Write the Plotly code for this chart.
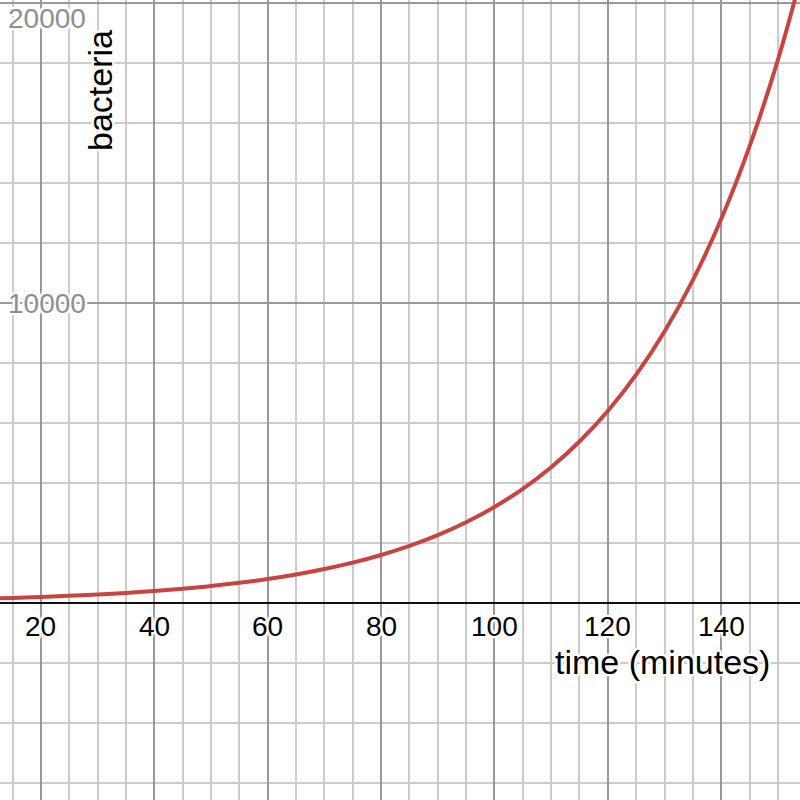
import plotly.graph_objects as go

# Data
t_min = [10, 15, 20, 25, 30, 35, 40, 45, 50, 55, 60, 65, 70, 75, 80, 85, 90, 95,
         100, 105, 110, 115, 120, 125, 130, 135, 140, 145, 150, 155]
bacteria = [141, 168, 200, 238, 283, 336, 400, 476, 566, 673, 800, 951, 1131, 1345,
            1600, 1903, 2263, 2691, 3200, 3805, 4525, 5382, 6400, 7611, 9051, 10763,
            12800, 15222, 18102, 21527]

x_tick_vals = [20, 40, 60, 80, 100, 120, 140]
x_tick_text = ["20", "40", "60", "80", "100", "120", "140"]
y_tick_vals = [10000, 20000]
y_tick_text = ["10000", "20000"]

x_title = "time (minutes)"
y_title = "bacteria"

X_RANGE = [12.77, 153.9]
Y_RANGE = [-6567, 20100]

FONT = "Liberation Sans, Arial, Helvetica, sans-serif"
HALO = ("2px 0 1px white, -2px 0 1px white, 0 2px 1px white, 0 -2px 1px white, "
        "2px 2px 1px white, -2px -2px 1px white, 2px -2px 1px white, -2px 2px 1px white")

fig = go.Figure()
fig.add_trace(go.Scatter(
    x=t_min, y=bacteria, mode="lines",
    line=dict(color="#c74440", width=4, shape="spline"),
    hoverinfo="skip", showlegend=False,
))

annotations = []
for v, s in zip(x_tick_vals, x_tick_text):
    annotations.append(dict(
        x=v, y=0, xref="x", yref="y", text=s, showarrow=False,
        xanchor="center", yanchor="middle", yshift=-24,
        font=dict(family=FONT, size=28, color="black", shadow=HALO),
    ))
for v, s in zip(y_tick_vals, y_tick_text):
    # keep labels inside the visible area (Desmos style clamping)
    top_clamp = (Y_RANGE[1] - v) / (Y_RANGE[1] - Y_RANGE[0]) * 800 < 14
    annotations.append(dict(
        x=0, y=v, xref="paper", yref="y", text=s, showarrow=False,
        xanchor="left", yanchor="top" if top_clamp else "middle",
        xshift=6, yshift=2 if top_clamp else 0,
        font=dict(family=FONT, size=28, color="#8f8f8f", shadow=HALO),
    ))
annotations.append(dict(
    x=662 / 800, y=1 - 662 / 800, xref="paper", yref="paper", text=x_title,
    showarrow=False, xanchor="center", yanchor="middle",
    font=dict(family=FONT, size=34, color="black", shadow=HALO),
))
annotations.append(dict(
    x=100 / 800, y=1 - 91 / 800, xref="paper", yref="paper", text=y_title,
    showarrow=False, xanchor="center", yanchor="middle", textangle=-90,
    font=dict(family=FONT, size=34, color="black", shadow=HALO),
))

fig.update_layout(
    width=800, height=800,
    margin=dict(l=0, r=0, t=0, b=0),
    paper_bgcolor="white", plot_bgcolor="white",
    annotations=annotations,
    xaxis=dict(
        range=X_RANGE, showticklabels=False, ticks="",
        dtick=20, tick0=0, showgrid=True, gridcolor="#999999", gridwidth=1.5,
        minor=dict(dtick=5, tick0=0, showgrid=True, gridcolor="#cccccc", gridwidth=1.5),
        zeroline=False, showline=False, fixedrange=True,
    ),
    yaxis=dict(
        range=Y_RANGE, showticklabels=False, ticks="",
        dtick=10000, tick0=0, showgrid=True, gridcolor="#999999", gridwidth=1.5,
        minor=dict(dtick=2000, tick0=0, showgrid=True, gridcolor="#cccccc", gridwidth=1.5),
        zeroline=True, zerolinecolor="#111111", zerolinewidth=2.2,
        showline=False, fixedrange=True,
    ),
)

fig.write_html(
    "out.html",
    config={"displayModeBar": False},
    post_script="document.body.style.margin='0';document.body.style.overflow='hidden';",
)
